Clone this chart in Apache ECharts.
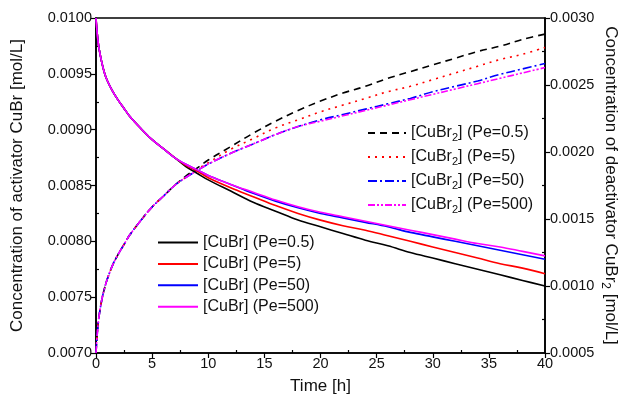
<!DOCTYPE html>
<html><head><meta charset="utf-8">
<script src="https://cdn.jsdelivr.net/npm/echarts@6/dist/echarts.min.js"></script>
<style>html,body{margin:0;padding:0;background:#fff}#c{width:619px;height:396px}</style>
</head><body><div id="c"></div>
<script>
const time = [0, 0.1, 0.25, 0.5, 0.75, 1, 1.5, 2, 2.5, 3, 4, 5, 6, 7, 8, 9, 10, 12, 14, 16, 18, 20, 22, 24, 26, 28, 30, 32, 34, 36, 38, 40];
const cubrPe05  = [0.01000, 0.00987, 0.00974, 0.00961, 0.00951, 0.00944, 0.00934, 0.00926, 0.00919, 0.00912, 0.00901, 0.00891, 0.00883, 0.00875, 0.00867, 0.00861, 0.00855, 0.00845, 0.00835, 0.00827, 0.00819, 0.00813, 0.00807, 0.00801, 0.00796, 0.00790, 0.00785, 0.00780, 0.00775, 0.00770, 0.00765, 0.00760];
const cubrPe5   = [0.01000, 0.00987, 0.00974, 0.00961, 0.00951, 0.00944, 0.00934, 0.00926, 0.00919, 0.00912, 0.00901, 0.00891, 0.00883, 0.00875, 0.00868, 0.00863, 0.00857, 0.00848, 0.00840, 0.00832, 0.00825, 0.00819, 0.00814, 0.00810, 0.00805, 0.00800, 0.00795, 0.00790, 0.00785, 0.00780, 0.00776, 0.00771];
const cubrPe50  = [0.01000, 0.00987, 0.00974, 0.00961, 0.00951, 0.00944, 0.00934, 0.00926, 0.00919, 0.00912, 0.00901, 0.00891, 0.00883, 0.00875, 0.00869, 0.00864, 0.00859, 0.00851, 0.00843, 0.00836, 0.00830, 0.00825, 0.00821, 0.00817, 0.00813, 0.00808, 0.00804, 0.00800, 0.00796, 0.00792, 0.00788, 0.00784];
const cubrPe500 = [0.01000, 0.00987, 0.00974, 0.00961, 0.00951, 0.00944, 0.00934, 0.00926, 0.00919, 0.00912, 0.00901, 0.00891, 0.00883, 0.00875, 0.00869, 0.00864, 0.00859, 0.00851, 0.00844, 0.00837, 0.00831, 0.00826, 0.00822, 0.00818, 0.00814, 0.00810, 0.00806, 0.00802, 0.00798, 0.00795, 0.00791, 0.00787];
const cubr2Pe05  = [0.00050, 0.00063, 0.00076, 0.00089, 0.00098, 0.00105, 0.00116, 0.00124, 0.00131, 0.00138, 0.00149, 0.00159, 0.00167, 0.00175, 0.00182, 0.00188, 0.00194, 0.00204, 0.00214, 0.00223, 0.00231, 0.00238, 0.00244, 0.00249, 0.00255, 0.00260, 0.00265, 0.00270, 0.00275, 0.00279, 0.00284, 0.00288];
const cubr2Pe5   = [0.00050, 0.00063, 0.00076, 0.00089, 0.00098, 0.00105, 0.00116, 0.00124, 0.00131, 0.00138, 0.00149, 0.00159, 0.00167, 0.00175, 0.00181, 0.00187, 0.00192, 0.00202, 0.00210, 0.00218, 0.00224, 0.00230, 0.00235, 0.00240, 0.00245, 0.00249, 0.00254, 0.00259, 0.00264, 0.00269, 0.00273, 0.00278];
const cubr2Pe50  = [0.00050, 0.00063, 0.00076, 0.00089, 0.00098, 0.00105, 0.00116, 0.00124, 0.00131, 0.00138, 0.00149, 0.00159, 0.00167, 0.00175, 0.00181, 0.00186, 0.00191, 0.00199, 0.00206, 0.00213, 0.00219, 0.00224, 0.00228, 0.00232, 0.00236, 0.00240, 0.00245, 0.00249, 0.00253, 0.00258, 0.00262, 0.00266];
const cubr2Pe500 = [0.00050, 0.00063, 0.00076, 0.00089, 0.00098, 0.00105, 0.00116, 0.00124, 0.00131, 0.00138, 0.00149, 0.00159, 0.00167, 0.00175, 0.00181, 0.00186, 0.00191, 0.00199, 0.00206, 0.00213, 0.00219, 0.00223, 0.00227, 0.00231, 0.00235, 0.00239, 0.00243, 0.00247, 0.00251, 0.00255, 0.00259, 0.00263];
const peLabels = ['0.5', '5', '50', '500'];
const colors = ['#000000', '#ff0000', '#0000ff', '#ff00ff'];

const FONT = 'Liberation Sans, Arial, sans-serif';
const pairs = a => time.map((t, i) => [t, a[i]]);
const cubrSets = [cubrPe05, cubrPe5, cubrPe50, cubrPe500];
const cubr2Sets = [cubr2Pe05, cubr2Pe5, cubr2Pe50, cubr2Pe500];
const dashes = [[7, 5], [2, 5], [9, 3, 2, 3], [7, 2, 2, 2, 2, 2]];

const cubrNames = peLabels.map(p => '[CuBr] (Pe=' + p + ')');
const cubr2Names = peLabels.map(p => '[CuBr2] (Pe=' + p + ')');

const series = [];
cubr2Sets.forEach((d, i) => series.push({
  name: cubr2Names[i], type: 'line', yAxisIndex: 1, data: pairs(d),
  showSymbol: false, symbol: 'none', smooth: 0.35,
  lineStyle: { color: colors[i], width: 1.6, type: dashes[i] }, itemStyle: { color: colors[i] }, z: 2
}));
cubrSets.forEach((d, i) => series.push({
  name: cubrNames[i], type: 'line', yAxisIndex: 0, data: pairs(d),
  showSymbol: false, symbol: 'none', smooth: 0.35,
  lineStyle: { color: colors[i], width: 1.6, type: 'solid' }, itemStyle: { color: colors[i] }, z: 3
}));

const axisCommon = {
  nameMoveOverlap: false,
  axisLine: { show: true, lineStyle: { color: '#000', width: 1.6 } },
  axisTick: { show: true, inside: false, length: 5, lineStyle: { color: '#000', width: 1.2 } },
  minorTick: { show: true, splitNumber: 2, length: -3, lineStyle: { color: '#000', width: 1.2 } },
  splitLine: { show: false },
  axisLabel: { color: '#111', fontSize: 14.5, fontFamily: FONT }
};
const rich = { sub: { fontSize: 11, fontFamily: FONT, color: '#111', verticalAlign: 'bottom', lineHeight: 11 } };

const chart = echarts.init(document.getElementById('c'), null, { renderer: 'canvas' });
chart.setOption({
  animation: false,
  backgroundColor: '#fff',
  grid: { left: 96, right: 74, top: 18, bottom: 43, outerBoundsMode: 'none', containLabel: false,
          show: true, borderColor: '#000', borderWidth: 1.6 },
  xAxis: Object.assign({}, axisCommon, {
    type: 'value', min: 0, max: 40, interval: 5,
    name: 'Time [h]', nameLocation: 'middle', nameGap: 25,
    nameTextStyle: { fontSize: 17, fontFamily: FONT, color: '#111' },
    axisLabel: Object.assign({}, axisCommon.axisLabel, { margin: 3 })
  }),
  yAxis: [
    Object.assign({}, axisCommon, {
      type: 'value', min: 0.007, max: 0.010, interval: 0.0005, position: 'left',
      name: 'Concentration of activator CuBr [mol/L]', nameLocation: 'middle', nameGap: 70, nameRotate: 90,
      nameTextStyle: { fontSize: 17, fontFamily: FONT, color: '#111' },
      axisLabel: Object.assign({}, axisCommon.axisLabel, { margin: 4, formatter: v => v.toFixed(4) })
    }),
    Object.assign({}, axisCommon, {
      type: 'value', min: 0.0005, max: 0.0030, interval: 0.0005, position: 'right',
      name: 'Concentration of deactivator CuBr{sub|2} [mol/L]', nameLocation: 'middle', nameGap: 54, nameRotate: -90,
      nameTextStyle: { fontSize: 17, fontFamily: FONT, color: '#111', lineHeight: 24,
        rich: { sub: { fontSize: 12, fontFamily: FONT, color: '#111', verticalAlign: 'bottom', lineHeight: 12 } } },
      axisLabel: Object.assign({}, axisCommon.axisLabel, { margin: 5, formatter: v => v.toFixed(4) })
    })
  ],
  legend: [
    {
      data: cubr2Names, orient: 'vertical', left: 367, top: 123, padding: 0,
      itemWidth: 38, itemHeight: 14, itemGap: 4,
      itemStyle: { opacity: 0 },
      formatter: n => n.replace('CuBr2', 'CuBr{sub|2}'),
      textStyle: { fontSize: 16, fontFamily: FONT, color: '#111', lineHeight: 20, rich: rich },
      selectedMode: false
    },
    {
      data: cubrNames, orient: 'vertical', left: 157, top: 234, padding: 0,
      itemWidth: 40, itemHeight: 14, itemGap: 4.4,
      itemStyle: { opacity: 0 },
      textStyle: { fontSize: 16, fontFamily: FONT, color: '#111', lineHeight: 17 },
      selectedMode: false
    }
  ],
  series: series
});
</script>
</body></html>
